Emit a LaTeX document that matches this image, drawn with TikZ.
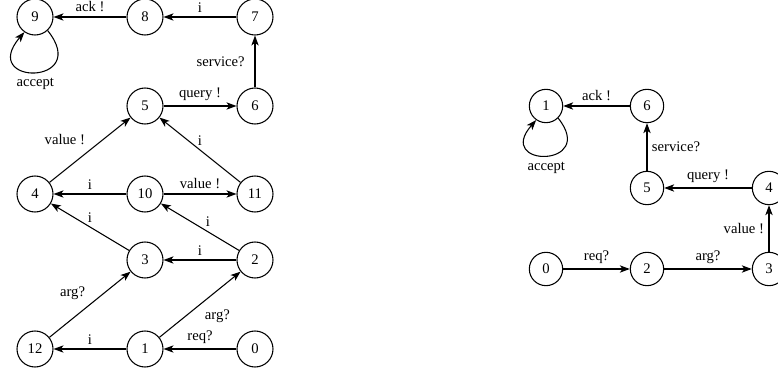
\documentclass[tikz,border=0pt]{standalone}
\usepackage{fontspec}
\setmainfont{Liberation Serif}
\usetikzlibrary{arrows.meta}

\begin{document}
\begin{tikzpicture}[x=0.75pt,y=-0.75pt,line width=0.8pt,>={Stealth[length=7.5pt,width=5.5pt,inset=2pt]},every node/.style={font=\fontsize{11}{13}\selectfont},
  state/.style={draw,circle,minimum size=27pt,inner sep=0pt},
  rstate/.style={draw,circle,minimum size=25pt,inner sep=0pt}]
\useasboundingbox (0,0) rectangle (778,377);
% left automaton
\node[state] (q9) at (35,17) {9};
\node[state] (q8) at (145,17) {8};
\node[state] (q7) at (255,17) {7};
\node[state] (q5) at (145,106) {5};
\node[state] (q6) at (255,106) {6};
\node[state] (q4) at (35,194) {4};
\node[state] (q10) at (145,194) {10};
\node[state] (q11) at (255,194) {11};
\node[state] (q3) at (145,260) {3};
\node[state] (q2) at (255,260) {2};
\node[state] (q12) at (35,349) {12};
\node[state] (q1) at (145,349) {1};
\node[state] (q0) at (255,349) {0};
\draw[->] (q8) -- node[above] {ack !} (q9);
\draw[->] (q7) -- node[above] {i} (q8);
\draw[->] (q6) -- node[left,xshift=-4pt] {service?} (q7);
\draw[->] (q5) -- node[above] {query !} (q6);
\draw[->] (q4) -- node[above left] {value !} (q5);
\draw[->] (q11) -- node[above] {i} (q5);
\draw[->] (q10) -- node[above] {i} (q4);
\draw[->] (q10) -- node[above] {value !} (q11);
\draw[->] (q3) -- node[above] {i} (q4);
\draw[->] (q2) -- node[above,pos=.4] {i} (q10);
\draw[->] (q2) -- node[above] {i} (q3);
\draw[->] (q12) -- node[above left] {arg?} (q3);
\draw[->] (q1) -- node[below right] {arg?} (q2);
\draw[->] (q0) -- node[above] {req?} (q1);
\draw[->] (q1) -- node[above] {i} (q12);
\draw[->] (q9.-47) .. controls (92,86) and (-22,86) .. node[below,yshift=-1pt] {accept} (q9.-125);
% right automaton
\node[rstate] (p1) at (546,106) {1};
\node[rstate] (p6) at (647,106) {6};
\node[rstate] (p5) at (647,188) {5};
\node[rstate] (p4) at (769,188) {4};
\node[rstate] (p0) at (546,269) {0};
\node[rstate] (p2) at (647,269) {2};
\node[rstate] (p3) at (769,269) {3};
\draw[->] (p6) -- node[above] {ack !} (p1);
\draw[->] (p5) -- node[right] {service?} (p6);
\draw[->] (p4) -- node[above] {query !} (p5);
\draw[->] (p3) -- node[left] {value !} (p4);
\draw[->] (p0) -- node[above] {req?} (p2);
\draw[->] (p2) -- node[above] {arg?} (p3);
\draw[->] (p1.-45) .. controls (598,168) and (494,168) .. node[below,yshift=-1pt] {accept} (p1.-125);
\end{tikzpicture}
\end{document}
